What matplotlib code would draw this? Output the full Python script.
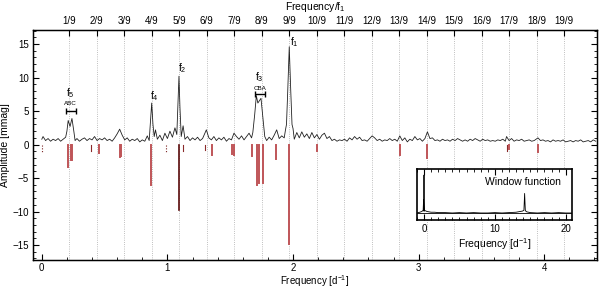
import numpy as np
import matplotlib.pyplot as plt
from matplotlib.ticker import MultipleLocator

plt.rcParams['font.family'] = ['Liberation Sans', 'DejaVu Sans']
plt.rcParams['mathtext.fontset'] = 'custom'
plt.rcParams['mathtext.rm'] = 'Liberation Sans'
plt.rcParams['mathtext.it'] = 'Liberation Sans'

# amplitude spectrum (frequency in d^-1, amplitude in mmag)
spec_freq = [
    0.00, 0.01, 0.03, 0.05, 0.07, 0.09, 0.11, 0.13, 0.15, 0.17, 0.19, 0.20, 0.21, 0.225, 0.24,
    0.255, 0.265, 0.28, 0.30, 0.32, 0.34, 0.36, 0.38, 0.40, 0.42, 0.44, 0.46, 0.48, 0.50,
    0.52, 0.54, 0.56, 0.58, 0.60, 0.62, 0.64, 0.66, 0.68, 0.70, 0.72, 0.74, 0.76, 0.78,
    0.80, 0.82, 0.84, 0.855, 0.865, 0.875, 0.885, 0.895, 0.905, 0.92, 0.94, 0.96, 0.98,
    1.00, 1.02, 1.04, 1.06, 1.075, 1.085, 1.092, 1.10, 1.11, 1.125, 1.14, 1.16, 1.18, 1.20,
    1.22, 1.24, 1.26, 1.28, 1.31, 1.33, 1.35, 1.37, 1.39, 1.41, 1.43, 1.45, 1.47, 1.49,
    1.51, 1.53, 1.55, 1.57, 1.59, 1.61, 1.63, 1.65, 1.67, 1.68, 1.695, 1.708, 1.72, 1.745,
    1.76, 1.775, 1.79, 1.81, 1.83, 1.85, 1.87, 1.89, 1.91, 1.93, 1.94, 1.948, 1.958, 1.97,
    1.982, 1.992, 2.00, 2.01, 2.03, 2.05, 2.07, 2.09, 2.11, 2.13, 2.15, 2.17, 2.19, 2.21,
    2.23, 2.25, 2.27, 2.29, 2.31, 2.33, 2.35, 2.37, 2.39, 2.41, 2.43, 2.45, 2.47, 2.49,
    2.51, 2.53, 2.55, 2.57, 2.59, 2.61, 2.63, 2.65, 2.67, 2.69, 2.71, 2.73, 2.75, 2.77,
    2.79, 2.81, 2.83, 2.85, 2.87, 2.89, 2.91, 2.93, 2.95, 2.97, 2.99, 3.01, 3.03, 3.05,
    3.07, 3.09, 3.11, 3.13, 3.15, 3.17, 3.19, 3.21, 3.23, 3.25, 3.27, 3.29, 3.31, 3.33,
    3.35, 3.37, 3.39, 3.41, 3.43, 3.45, 3.47, 3.49, 3.51, 3.53, 3.55, 3.57, 3.59, 3.61,
    3.63, 3.65, 3.67, 3.69, 3.70, 3.72, 3.74, 3.76, 3.78, 3.80, 3.82, 3.84, 3.86, 3.88,
    3.90, 3.92, 3.95, 3.97, 3.99, 4.01, 4.03, 4.05, 4.07, 4.09, 4.11, 4.13, 4.15, 4.17,
    4.19, 4.21, 4.23, 4.25, 4.27, 4.29, 4.31, 4.33, 4.35, 4.37, 4.39, 4.41,
]
spec_amp = [
    0.8, 1.2, 0.6, 0.9, 0.5, 0.8, 0.6, 0.9, 0.5, 0.8, 1.1, 2.0, 3.6, 2.7, 3.9,
    2.0, 0.6, 0.9, 0.5, 0.8, 1.0, 0.6, 0.9, 0.7, 1.2, 0.6, 0.9, 0.7, 1.0,
    0.6, 0.8, 0.5, 1.0, 1.6, 2.3, 1.4, 0.7, 1.0, 0.5, 0.8, 0.6, 0.9, 0.4,
    0.7, 0.5, 1.3, 0.6, 3.5, 6.2, 3.0, 1.2, 2.2, 0.8, 1.4, 0.6, 1.7,
    0.9, 2.0, 1.1, 2.5, 1.5, 6.5, 10.2, 5.5, 1.2, 2.8, 0.8, 1.2, 0.6, 1.0,
    0.7, 1.1, 0.6, 0.9, 2.2, 1.0, 0.7, 1.2, 0.6, 1.0, 0.7, 1.1, 0.5, 0.9,
    0.7, 1.7, 1.2, 0.8, 1.3, 0.7, 1.2, 1.7, 1.0, 1.8, 4.5, 7.3, 6.2, 6.9,
    4.0, 1.2, 0.6, 1.1, 0.7, 1.4, 2.2, 0.9, 1.3, 1.0, 2.2, 3.0, 8.0, 14.6,
    8.0, 3.0, 2.4, 0.8, 1.8, 1.0, 1.9, 1.1, 1.6, 0.9, 1.8, 1.0, 1.5, 0.8,
    1.4, 1.7, 0.9, 1.2, 0.6, 0.8, 0.5, 0.7, 0.6, 0.8, 0.5, 1.0, 0.7, 1.2,
    0.8, 1.1, 0.6, 0.7, 0.5, 0.9, 1.3, 1.0, 0.6, 0.8, 0.5, 0.7, 0.6, 0.9,
    0.6, 0.8, 0.5, 1.3, 0.6, 1.0, 0.4, 0.8, 0.6, 1.2, 0.7, 0.9, 0.5, 0.9,
    1.9, 0.9, 1.0, 0.6, 0.7, 0.5, 0.8, 0.6, 0.7, 0.5, 0.8, 0.6, 0.9, 0.7,
    0.5, 0.7, 0.5, 0.8, 0.6, 0.9, 0.7, 0.5, 0.8, 0.6, 0.7, 0.5, 0.6, 0.5,
    0.7, 0.6, 0.8, 0.5, 1.2, 0.6, 0.9, 0.5, 0.7, 0.6, 0.8, 0.5, 0.6, 0.7,
    0.5, 0.6, 1.0, 0.6, 0.7, 0.5, 0.6, 0.4, 0.7, 0.5, 0.6, 0.5, 0.7, 0.4,
    0.5, 0.6, 0.4, 0.6, 0.5, 0.7, 0.4, 0.5, 0.6, 0.4, 0.7, 0.5,
]

# extracted frequencies shown as downward bars
comb_freq = [0.003, 0.21, 0.23, 0.244, 0.395, 0.453, 0.62, 0.634, 0.873, 0.99, 1.092, 1.124,
             1.30, 1.352, 1.517, 1.53, 1.676, 1.713, 1.732, 1.758, 1.864, 1.97, 2.19, 2.854,
             3.07, 3.70, 3.72, 3.95]
comb_amp = [1.2, 3.3, 2.3, 2.3, 1.0, 1.2, 1.9, 1.7, 6.0, 1.3, 9.7, 0.9,
            0.8, 1.5, 1.4, 1.6, 1.7, 6.1, 5.7, 5.8, 2.1, 14.8, 0.9, 1.6,
            2.0, 1.0, 0.7, 1.1]
comb_kind = ['dot', 'wide', 'wide', 'wide', 'thin', 'wide', 'wide', 'wide', 'wide', 'dot', 'dark', 'thin',
             'thin', 'wide', 'wide', 'wide', 'wide', 'wide', 'wide', 'wide', 'wide', 'wide', 'wide', 'wide',
             'wide', 'thin', 'wide', 'wide']

f1 = 1.97
harmonics = list(range(1, 20))

# window function
win_freq = [-1.0, -0.6, -0.3, -0.12, -0.06, -0.03, 0.0, 0.03, 0.08, 0.2, 0.4, 0.7, 1.0, 1.5,
            2.0, 3.0, 4.0, 5.0, 6.0, 7.0, 8.0, 9.0, 10.0, 11.0, 12.0, 13.0, 13.6, 13.9,
            14.1, 14.2, 14.3, 14.5, 15.0, 16.0, 17.0, 18.0, 19.0, 20.0, 20.8]
win_amp = [0.01, 0.03, 0.05, 0.08, 0.35, 0.06, 1.0, 0.08, 0.06, 0.07, 0.05, 0.04, 0.03, 0.03,
           0.02, 0.02, 0.01, 0.02, 0.01, 0.02, 0.01, 0.01, 0.02, 0.01, 0.02, 0.03, 0.05, 0.06,
           0.08, 0.52, 0.07, 0.04, 0.02, 0.01, 0.02, 0.01, 0.02, 0.01, 0.01]

fig = plt.figure(figsize=(6.0, 2.9), dpi=100)
ax = fig.add_axes([0.055, 0.104, 0.94, 0.7926])

for k in harmonics:
    ax.axvline(k * f1 / 9, color='#aaaaaa', ls=':', lw=0.6, zorder=0)

ax.plot(spec_freq, spec_amp, color='#202020', lw=0.6, zorder=3)

for f, a, kind in zip(comb_freq, comb_amp, comb_kind):
    if kind == 'dot':
        ax.plot([f, f], [0, -a], color='#7a2020', lw=0.8, ls=(0, (1, 1.5)), zorder=2)
    elif kind == 'dark':
        ax.plot([f, f], [0, -a], color='#5a0a0a', lw=1.2, zorder=2)
    elif kind == 'thin':
        ax.plot([f, f], [0, -a], color='#8a2a2a', lw=0.8, zorder=2)
    else:
        ax.plot([f, f], [0, -a], color='#bf5558', lw=1.4, zorder=2)

ax.set_xlim(-0.07, 4.42)
ax.set_ylim(-17.2, 17.1)
ax.xaxis.set_major_locator(MultipleLocator(1))
ax.xaxis.set_minor_locator(MultipleLocator(0.2))
ax.yaxis.set_major_locator(MultipleLocator(5))
ax.yaxis.set_minor_locator(MultipleLocator(1))
ax.tick_params(which='both', direction='in', labelsize=7, right=True, top=False)
ax.tick_params(which='major', length=4)
ax.tick_params(which='minor', length=2)
ax.tick_params(axis='x', pad=2)
ax.tick_params(axis='y', pad=3)
ax.set_xlabel('Frequency [d$^{-1}$]', fontsize=7, labelpad=0.5)
ax.set_ylabel('Amplitude [mmag]', fontsize=7.5, labelpad=1.5)
for sp in ax.spines.values():
    sp.set_linewidth(1.0)

# labels of the main peaks
ax.text(0.225, 7.2, 'f$_5$', fontsize=7.5, ha='center')
ax.text(0.23, 5.9, 'ABC', fontsize=4.5, ha='center')
ax.errorbar([0.23], [5.0], xerr=[[0.04], [0.04]], fmt='none', ecolor='black', elinewidth=1.0, capsize=2)
ax.text(0.90, 6.7, 'f$_4$', fontsize=7.5, ha='center')
ax.text(1.12, 11.0, 'f$_2$', fontsize=7.5, ha='center')
ax.text(1.735, 9.6, 'f$_3$', fontsize=7.5, ha='center')
ax.text(1.735, 8.1, 'CBA', fontsize=4.5, ha='center')
ax.errorbar([1.737], [7.6], xerr=[[0.042], [0.042]], fmt='none', ecolor='black', elinewidth=1.0, capsize=2)
ax.text(2.01, 14.9, 'f$_1$', fontsize=7.5, ha='center')

# top axis in units of f1
top = ax.twiny()
top.set_xlim(ax.get_xlim())
top.set_xticks([k * f1 / 9 for k in harmonics])
top.set_xticklabels([f'{k}/9' for k in harmonics])
top.tick_params(direction='in', labelsize=7, length=4, pad=3)
top.set_xlabel('Frequency/f$_1$', fontsize=7.5, labelpad=4)

# window function inset
ins = fig.add_axes([0.6945, 0.2431, 0.2590, 0.1731])
ins.plot(win_freq, win_amp, color='black', lw=0.6)
ins.axhline(0, color='black', lw=0.6)
ins.set_xlim(-1.03, 20.9)
ins.set_ylim(-0.16, 1.15)
ins.set_yticks([])
ins.xaxis.set_major_locator(MultipleLocator(10))
ins.xaxis.set_minor_locator(MultipleLocator(1))
ins.tick_params(which='both', direction='in', labelsize=7, top=True, pad=3)
ins.tick_params(which='major', length=4)
ins.tick_params(which='minor', length=2)
ins.set_xlabel('Frequency [d$^{-1}$]', fontsize=7.5, labelpad=1.5)
ins.text(0.93, 0.75, 'Window function', transform=ins.transAxes, fontsize=7.5, ha='right', va='center')
for sp in ins.spines.values():
    sp.set_linewidth(1.2)

fig.savefig('out.png', dpi=100)
